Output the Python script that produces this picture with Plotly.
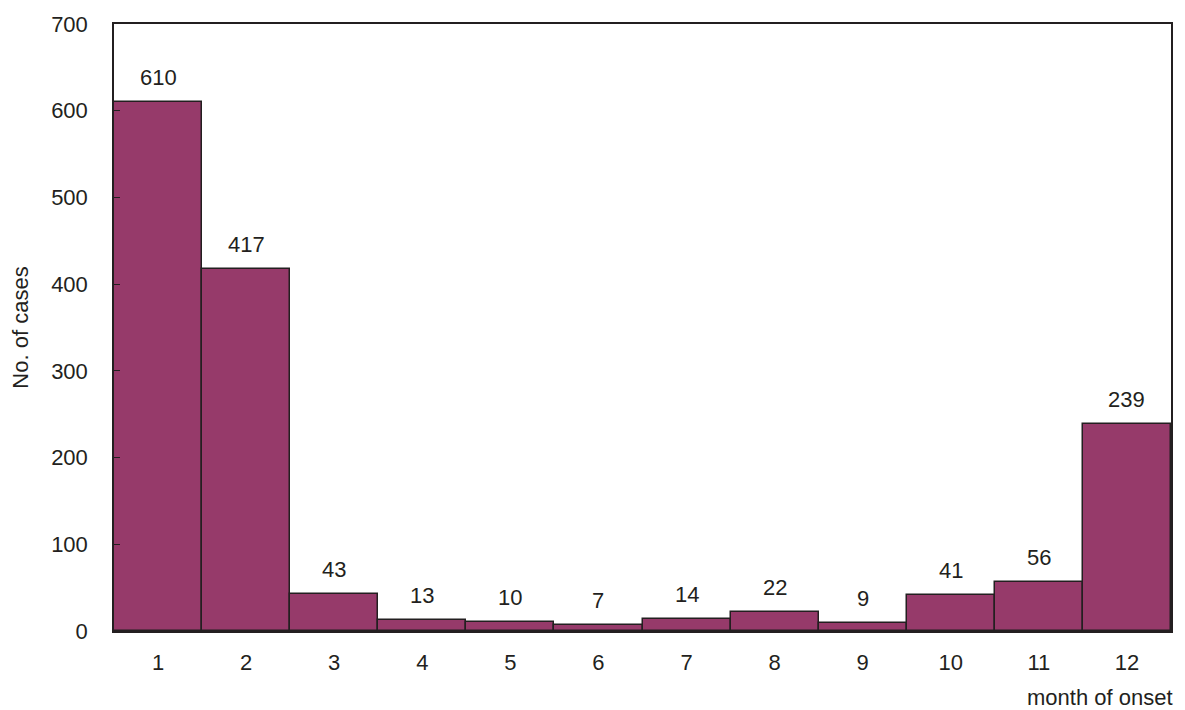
import plotly.graph_objects as go

months = [1, 2, 3, 4, 5, 6, 7, 8, 9, 10, 11, 12]
cases = [610, 417, 43, 13, 10, 7, 14, 22, 9, 41, 56, 239]
y_ticks = [0, 100, 200, 300, 400, 500, 600, 700]

FONT = "Liberation Sans, Arial, sans-serif"
BAR = "#963A6A"
INK = "#231F20"
FS = 22

fig = go.Figure()
fig.add_trace(go.Bar(
    x=months, y=cases, width=1,
    marker=dict(color=BAR, line=dict(color=INK, width=1.5)),
    hoverinfo="x+y",
))
for m, c in zip(months, cases):
    fig.add_annotation(x=m, y=c, text=str(c), showarrow=False,
                       yanchor="bottom", yshift=10,
                       font=dict(family=FONT, size=FS, color=INK))

fig.add_annotation(x=1, y=0, xref="paper", yref="paper", text="month of onset",
                   showarrow=False, xanchor="right", yanchor="top", yshift=-52, xshift=4,
                   font=dict(family=FONT, size=FS, color=INK))

fig.update_layout(
    width=1185, height=710,
    margin=dict(l=114, r=13, t=22, b=79),
    paper_bgcolor="white", plot_bgcolor="white",
    bargap=0, showlegend=False,
    font=dict(family=FONT, size=FS, color=INK),
)
fig.update_xaxes(
    range=[0.5, 12.5], tickvals=months, ticktext=[str(m) for m in months],
    showline=True, linecolor=INK, linewidth=1.5, mirror=True,
    ticks="", ticklabelstandoff=11, showgrid=False, zeroline=False,
)
fig.update_yaxes(
    range=[0, 700], tickvals=y_ticks,
    showline=True, linecolor=INK, linewidth=1.5, mirror=True,
    ticks="inside", ticklen=6, tickcolor=INK, ticklabelstandoff=20,
    showgrid=False, zeroline=False,
    title=dict(text="No. of cases", standoff=16, font=dict(size=FS)),
)

fig.write_html("out.html", config={"displayModeBar": False},
               post_script="document.body.style.margin='0';document.body.style.overflow='hidden';")
